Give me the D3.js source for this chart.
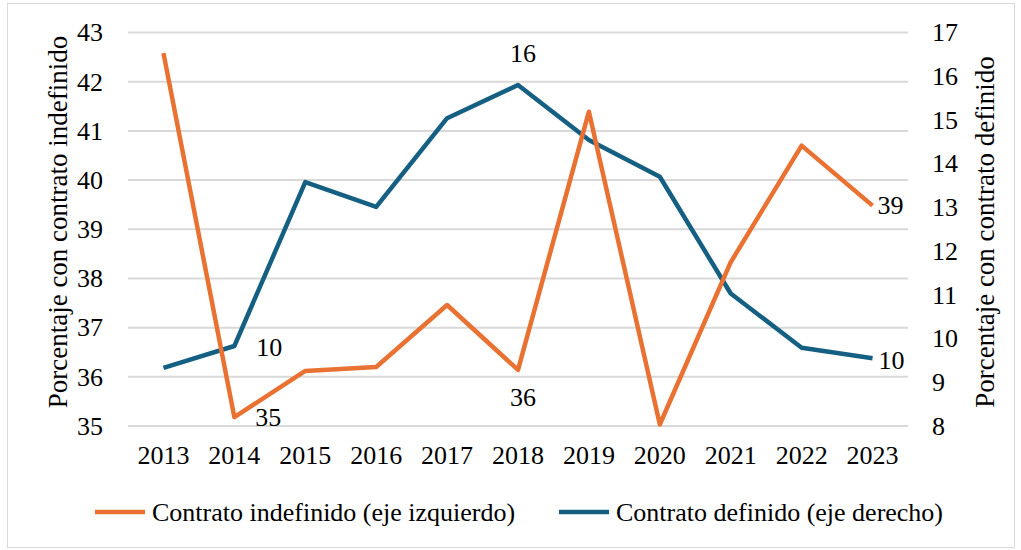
<!DOCTYPE html>
<html>
<head>
<meta charset="utf-8">
<script src="https://cdn.jsdelivr.net/npm/d3@7/dist/d3.min.js"></script>
<style>
  html, body { margin: 0; padding: 0; background: #fff; }
  svg, svg text { font-family: "Liberation Serif", Tinos, "Times New Roman", serif; }
</style>
</head>
<body>
<svg id="chart" width="1021" height="550" font-family="Liberation Serif"></svg>
<script>
const years = ["2013","2014","2015","2016","2017","2018","2019","2020","2021","2022","2023"];
const indefinido = [42.58, 35.18, 36.12, 36.2, 37.46, 36.14, 41.39, 35.03, 38.33, 40.7, 39.48];
const definido = [9.33, 9.83, 13.58, 13.01, 15.04, 15.8, 14.54, 13.7, 11.03, 9.79, 9.55];
const leftTicks = [35, 36, 37, 38, 39, 40, 41, 42, 43];
const rightTicks = [8, 9, 10, 11, 12, 13, 14, 15, 16, 17];
const seriesNames = ["Contrato indefinido (eje izquierdo)", "Contrato definido (eje derecho)"];
const leftTitle = "Porcentaje con contrato indefinido";
const rightTitle = "Porcentaje con contrato definido";
// labelled points: [series index, year index]
const labelled = [[0,1],[1,1],[1,5],[0,5],[0,10],[1,10]];

// label placement (style, not data): [dx, dy, anchor]
const labelPlacement = [[21,0,"start"],[22,1,"start"],[5,-32,"middle"],[5,27,"middle"],[5,0,"start"],[6,2,"start"]];

const orange = "#E97132", blue = "#156082";
const fs = 26, fsTitle = 27;
const svg = d3.select("#chart");
svg.append("rect").attr("x",7.5).attr("y",3.5).attr("width",1007).attr("height",544)
  .attr("fill","#fff").attr("stroke","#d9d9d9").attr("stroke-width",1);

const m = {left:128, right:908, top:32.5, bottom:426};
const x = d3.scaleBand().domain(years).range([m.left, m.right]);
const yL = d3.scaleLinear().domain([35,43]).range([m.bottom, m.top]);
const yR = d3.scaleLinear().domain([8,17]).range([m.bottom, m.top]);

function styleText(sel, size) {
  sel.attr("font-family", "Liberation Serif").attr("font-size", size || fs).attr("fill", "#000");
  return sel;
}

// gridlines
svg.append("g").selectAll("line").data(leftTicks).join("line")
  .attr("x1", m.left).attr("x2", m.right)
  .attr("y1", d => yL(d)).attr("y2", d => yL(d))
  .attr("stroke", "#d9d9d9").attr("stroke-width", 2);

function fixAxis(g) {
  g.attr("font-family", "Liberation Serif").attr("font-size", fs);
  g.select(".domain").remove();
  styleText(g.selectAll("text"));
}

// left axis
fixAxis(svg.append("g").attr("transform", `translate(${m.left},0)`)
  .call(d3.axisLeft(yL).tickValues(leftTicks).tickSize(0).tickPadding(25).tickFormat(d3.format("d"))));

// right axis
fixAxis(svg.append("g").attr("transform", `translate(${m.right},0)`)
  .call(d3.axisRight(yR).tickValues(rightTicks).tickSize(0).tickPadding(24).tickFormat(d3.format("d"))));

// x axis
fixAxis(svg.append("g").attr("transform", `translate(0,${m.bottom})`)
  .call(d3.axisBottom(x).tickSize(0).tickPadding(20)));

// axis titles
styleText(svg.append("text").attr("transform", `translate(58,222) rotate(-90)`)
  .attr("text-anchor","middle").attr("dy","0.33em").text(leftTitle), fsTitle);
styleText(svg.append("text").attr("transform", `translate(985,232) rotate(-90)`)
  .attr("text-anchor","middle").attr("dy","0.33em").text(rightTitle), fsTitle);

const cx = d => x(d) + x.bandwidth()/2;
const lineL = d3.line().x((d,i) => cx(years[i])).y(d => yL(d));
const lineR = d3.line().x((d,i) => cx(years[i])).y(d => yR(d));

svg.append("path").datum(definido).attr("d", lineR)
  .attr("fill","none").attr("stroke", blue).attr("stroke-width", 4.5).attr("stroke-linejoin","round");
svg.append("path").datum(indefinido).attr("d", lineL)
  .attr("fill","none").attr("stroke", orange).attr("stroke-width", 4.5).attr("stroke-linejoin","round");

// data labels
labelled.forEach(([s, i], k) => {
  const [dx, dy, anchor] = labelPlacement[k];
  const v = s === 0 ? indefinido[i] : definido[i];
  const px = cx(years[i]);
  const py = s === 0 ? yL(v) : yR(v);
  styleText(svg.append("text").attr("x", px + dx).attr("y", py + dy).attr("dy","0.33em")
    .attr("text-anchor", anchor).text(d3.format(".0f")(v)));
});

// legend
const legend = [[seriesNames[0], orange, 95], [seriesNames[1], blue, 559]];
legend.forEach(([name, col, lx]) => {
  svg.append("line").attr("x1", lx).attr("x2", lx+50).attr("y1", 512).attr("y2", 512)
    .attr("stroke", col).attr("stroke-width", 4.5);
  styleText(svg.append("text").attr("x", lx+57).attr("y", 512).attr("dy","0.33em").text(name));
});
</script>
</body>
</html>
